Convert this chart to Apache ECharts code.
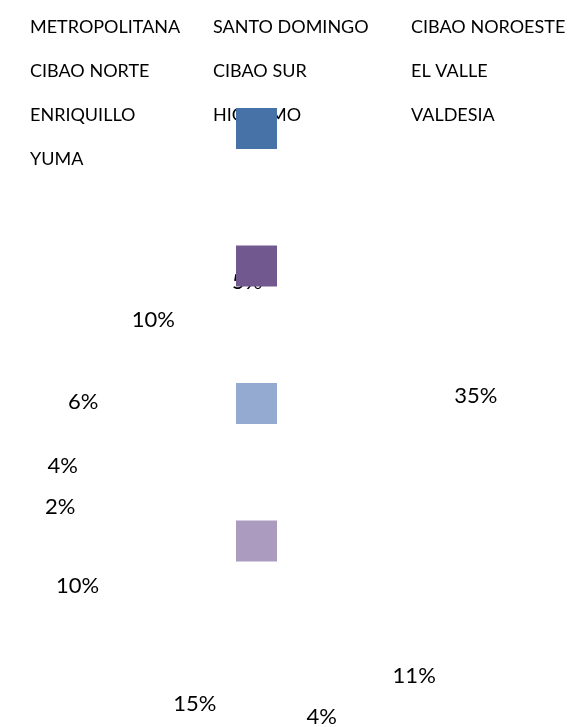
<!DOCTYPE html>
<html><head><meta charset="utf-8">
<script src="https://cdn.jsdelivr.net/npm/echarts@6/dist/echarts.min.js"></script>
<style>html,body{margin:0;padding:0;background:#fff}#c{width:584px;height:727px}</style>
</head><body><div id="c"></div>
<script>
const categories = ['METROPOLITANA','SANTO DOMINGO','CIBAO NOROESTE','CIBAO NORTE','CIBAO SUR','EL VALLE','ENRIQUILLO','HIGUAMO','VALDESIA','YUMA'];
const values = [35, 11, 4, 15, 10, 2, 4, 6, 10, 5];
const swatchColors = ['#4672A8', '#71588F', '#95AAD0', '#AA9BBF'];

const FONT = 'Lato';
const chart = echarts.init(document.getElementById('c'), null, {renderer: 'canvas'});
const colLefts = [20, 203, 401];
const legends = [0, 1, 2].map(col => ({
  orient: 'vertical',
  left: colLefts[col],
  top: 11,
  icon: 'rect',
  itemWidth: 0,
  itemHeight: 0,
  itemGap: 44 - 22,
  selectedMode: false,
  textStyle: {fontFamily: FONT, fontSize: 18, color: '#000', lineHeight: 22, height: 22},
  data: categories.filter((c, i) => i % 3 === col)
}));

chart.setOption({
  animation: false,
  legend: legends,
  graphic: swatchColors.map((col, i) => ({
    type: 'rect', z: 100,
    shape: {x: 236, y: 108 + i * 137.5, width: 41, height: 41},
    style: {fill: col}
  })),
  series: [{
    type: 'pie',
    center: [281, 500],
    radius: [203, 233],
    startAngle: 90,
    clockwise: true,
    itemStyle: {color: 'rgba(0,0,0,0)'},
    label: {show: true, position: 'inside', formatter: '{c}%', fontFamily: FONT, fontSize: 22, color: '#000'},
    labelLine: {show: false},
    emphasis: {disabled: true},
    data: categories.map((n, i) => ({name: n, value: values[i]}))
  }]
});
</script></body></html>
